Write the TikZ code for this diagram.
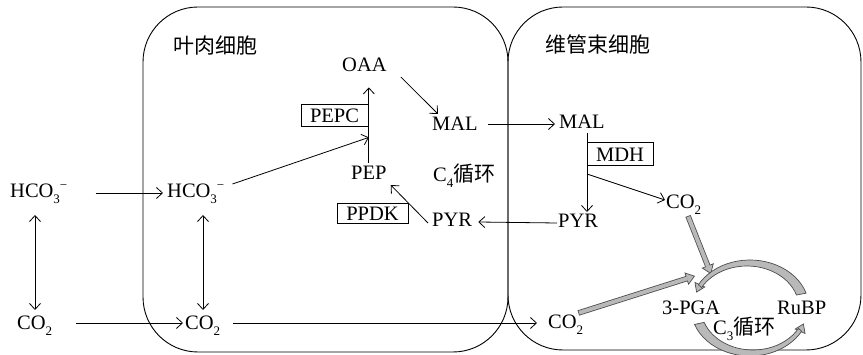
\documentclass[tikz,border=0pt]{standalone}
\usepackage{fontspec}
\setmainfont{Liberation Serif}
\newfontfamily\cjk{Noto Sans CJK SC}
\usetikzlibrary{arrows.meta,calc}
\newcommand\sbs[1]{\raisebox{-0.27em}{\fontsize{13}{13}\selectfont #1}}
\newcommand\sps[1]{\raisebox{0.42em}{\fontsize{13}{13}\selectfont #1}}
\begin{document}
\begin{tikzpicture}[x=1pt,y=-1pt,
  font=\fontsize{20.5}{23}\selectfont,
  lbl/.style={inner sep=0pt, anchor=base west},
  cjklbl/.style={inner sep=0pt, font=\cjk\fontsize{21}{24}\selectfont},
  arr/.style={line width=0.8pt, -{Straight Barb[length=6pt,width=11pt]}},
  darr/.style={line width=0.8pt, {Straight Barb[length=6pt,width=11pt]}-{Straight Barb[length=6pt,width=11pt]}},
  enz/.style={draw, line width=1pt, inner sep=0pt, minimum height=22pt},
  cell/.style={draw, line width=0.9pt, rounded corners=55pt, inner sep=0pt},
  gouter/.style={line width=5.5pt, draw=black!70, -{Triangle[length=9pt,width=13pt,line width=0.7pt,fill=gray!55]}},
  ginner/.style={line width=3.9pt, draw=gray!55, shorten >=8pt, shorten <=0.8pt},
  gtip/.style={draw=black!70, line width=0.7pt, -{Triangle[length=9pt,width=12pt,fill=gray!55]}},
  gbody/.style={draw=black!70, fill=gray!55, line width=0.7pt}]
\useasboundingbox (0,0) rectangle (863,355);

% cells
\node[cell, minimum width=365pt, minimum height=345pt] (leaf) at (325.5,179.5) {};
\node[cell, minimum width=353pt, minimum height=343pt] (bund) at (684.5,178.5) {};
\node[cjklbl] (cellL) at (215,46) {叶肉细胞};
\node[cjklbl] (cellR) at (598,45) {维管束细胞};

% labels
\node[lbl] (hco3a) at (10,198) {HCO\sbs{3}\sps{−}};
\node[lbl] (hco3b) at (167,198) {HCO\sbs{3}\sps{−}};
\node[lbl] (co2a) at (17,330) {CO\sbs{2}};
\node[lbl] (co2b) at (185,330) {CO\sbs{2}};
\node[lbl] (co2c) at (548,329) {CO\sbs{2}};
\node[lbl] (oaa) at (342,72) {OAA};
\node[lbl] (mal1) at (432,131) {MAL};
\node[lbl] (pep) at (351,180) {PEP};
\node[lbl] (c4) at (433,182) {C\sbs{4}{\cjk\fontsize{21}{24}\selectfont 循环}};
\node[lbl] (pyr1) at (432,227) {PYR};
\node[lbl] (mal2) at (559,129) {MAL};
\node[lbl] (pyr2) at (558,228) {PYR};
\node[lbl] (co2d) at (666,209) {CO\sbs{2}};
\node[lbl] (pga) at (662,315) {3-PGA};
\node[lbl] (rubp) at (777,315) {RuBP};
\node[lbl] (c3) at (713,335) {C\sbs{3}{\cjk\fontsize{21}{24}\selectfont 循环}};

% enzymes
\node[enz, minimum width=67pt] (pepc) at (334.5,116) {PEPC};
\node[enz, minimum width=71pt, minimum height=20pt] (ppdk) at (372.5,214) {PPDK};
\node[enz, minimum width=66pt, minimum height=23pt] (mdh) at (620,154.5) {MDH};

% outside / mesophyll arrows
\draw[arr] ($(hco3a.base east)+(28,-5)$) -- ($(hco3b.base west)+(-4,-5)$);
\draw[arr] ($(co2a.base east)+(24,-7)$) -- ($(co2b.base west)+(-2,-7)$);
\draw[arr] ($(co2b.base east)+(13,-7)$) -- ($(co2c.base west)+(-11,-6)$);
\draw[darr] ($(hco3a.base west)+(25,17)$) -- ($(co2a.base west)+(18,-20)$);
\draw[darr] ($(hco3b.base west)+(36,17)$) -- ($(co2b.base west)+(18,-20)$);

% C4 cycle
\coordinate (top) at ($(pep.north |- oaa.south)+(0,15)$);
\draw[arr] ($(pep.north)+(0,-3.5)$) -- (top);
\draw[arr] ($(hco3b.base east)+(8,-14)$) -- ($(top)+(0,50)$);
\draw[arr] ($(oaa.base east)+(14,5)$) -- ($(mal1.base west)+(6,-17)$);
\draw[arr] ($(mal1.base east)+(10,-7)$) -- ($(mal2.base west)+(-4,-5)$);
\draw[arr] ($(mal2.base west)+(28,4)$) -- ($(pyr2.base west)+(29,-16)$);
\draw[arr] ($(mal2.base west)+(28,45)$) -- ($(co2d.base west)+(-1,-9)$);
\draw[arr] ($(pyr2.base west)+(-1,-5)$) -- ($(pyr1.base east)+(6,-5)$);
\draw[arr] ($(pyr1.base west)+(-4,-4)$) -- ($(pep.base east)+(4,5)$);

% C3 cycle
\coordinate (cyc) at (750,308);
\coordinate (cl) at (748.5,308);
\coordinate (cr) at (751.5,308);
\coordinate (g1) at (711,274);
\coordinate (g2) at (695,276);
\draw[gouter] ($(co2d.base west)+(22,7)$) -- (g1);
\draw[ginner] ($(co2d.base west)+(22,7)$) -- (g1);
\draw[gouter] ($(co2c.base east)+(-5,-16)$) -- (g2);
\draw[ginner] ($(co2c.base east)+(-5,-16)$) -- (g2);
% top crescent (RuBP -> 3-PGA)
\draw[gtip] ($(cl)+(140:55.5pt and 45pt)$) arc[start angle=140, end angle=160, x radius=55.5pt, y radius=45pt];
\filldraw[gbody] ($(cyc)+(18:59pt and 48pt)$) arc[start angle=18, end angle=151, x radius=59pt, y radius=48pt]
  -- ($(cyc)+(-3,0)+(151:52pt and 42pt)$) arc[start angle=151, end angle=18, x radius=52pt, y radius=42pt] -- cycle;
% bottom crescent (3-PGA -> RuBP)
\draw[gtip] ($(cr)+(322:55.5pt and 45pt)$) arc[start angle=322, end angle=340, x radius=55.5pt, y radius=45pt];
\filldraw[gbody] ($(cyc)+(200:59pt and 48pt)$) arc[start angle=200, end angle=331, x radius=59pt, y radius=48pt]
  -- ($(cyc)+(3,0)+(331:52pt and 42pt)$) arc[start angle=331, end angle=200, x radius=52pt, y radius=42pt] -- cycle;
\end{tikzpicture}
\end{document}
